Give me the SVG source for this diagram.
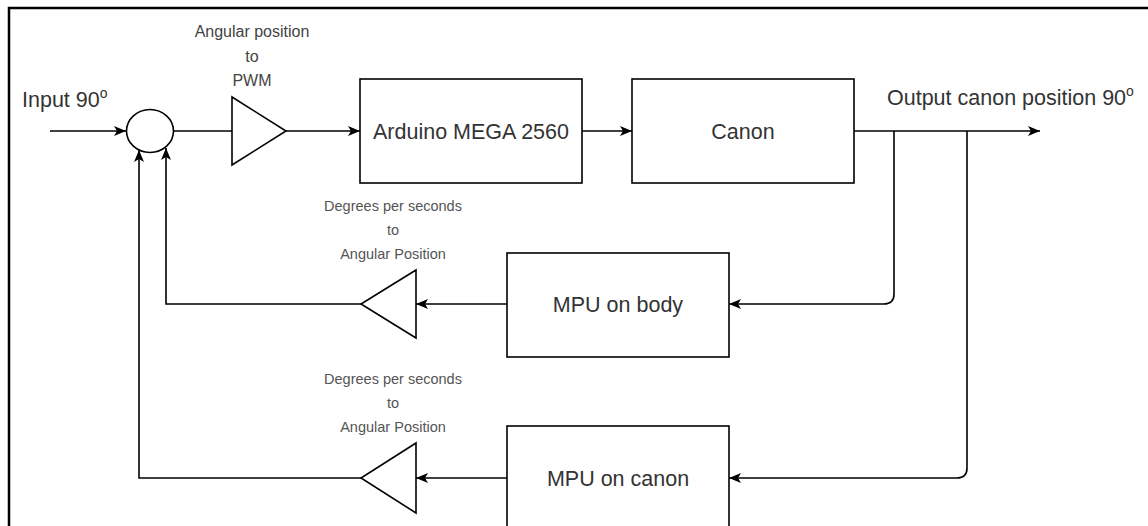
<svg xmlns="http://www.w3.org/2000/svg" width="1148" height="526" viewBox="0 0 1148 526">
<style>
.box{fill:#fff;stroke:#000;stroke-width:1.6}
.tri{fill:#fff;stroke:#000;stroke-width:1.6;stroke-linejoin:miter}
.ln{fill:none;stroke:#000;stroke-width:1.6}
.t{font-family:"Liberation Sans",Arial,sans-serif;font-size:21.5px;fill:#333}
.s{font-family:"Liberation Sans",Arial,sans-serif;font-size:16px;fill:#444;text-anchor:middle}
.d{font-family:"Liberation Sans",Arial,sans-serif;font-size:14.5px;fill:#555;text-anchor:middle}
</style>
<defs>
<marker id="ar" markerWidth="13" markerHeight="11" refX="12" refY="5.5" orient="auto" markerUnits="userSpaceOnUse">
<path d="M0,0.5 L12,5.5 L0,10.5 L3,5.5 z" fill="#000"/>
</marker>
</defs>
<rect width="1148" height="526" fill="#fff"/>
<path d="M9,526 L9,8 L1148,8" fill="none" stroke="#000" stroke-width="2.5"/>
<g id="connectors">
<line class="ln" x1="50" y1="131" x2="126" y2="131" marker-end="url(#ar)"/>
<line class="ln" x1="173.5" y1="131" x2="232" y2="131"/>
<line class="ln" x1="286" y1="131" x2="360" y2="131" marker-end="url(#ar)"/>
<line class="ln" x1="582" y1="131" x2="632" y2="131" marker-end="url(#ar)"/>
<line class="ln" x1="854" y1="131" x2="1040" y2="131" marker-end="url(#ar)"/>
<path class="ln" d="M894,131 L894,294 Q894,304 884,304 L729,304" marker-end="url(#ar)"/>
<path class="ln" d="M967,131 L967,468 Q967,478 957,478 L729,478" marker-end="url(#ar)"/>
<line class="ln" x1="507" y1="304" x2="416" y2="304" marker-end="url(#ar)"/>
<line class="ln" x1="507" y1="478" x2="416" y2="478" marker-end="url(#ar)"/>
<path class="ln" d="M361,304 L166,304 L166,148" marker-end="url(#ar)"/>
<path class="ln" d="M361,478 L139,478 L139,150" marker-end="url(#ar)"/>
</g>
<g id="input-label"><text class="t" x="22" y="107">Input 90<tspan font-size="14" dy="-9">o</tspan></text></g>
<g id="output-label"><text class="t" x="887" y="105">Output canon position 90<tspan font-size="14" dy="-9">o</tspan></text></g>
<g id="sum"><ellipse class="box" cx="150" cy="131" rx="23.5" ry="21.5"/></g>
<g id="gain-pwm">
<polygon class="tri" points="232,97 286,131 232,165"/>
<text class="s" x="252" y="37">Angular position</text>
<text class="s" x="252" y="62">to</text>
<text class="s" x="252" y="86">PWM</text>
</g>
<g id="arduino"><rect class="box" x="360" y="79" width="222" height="104"/><text class="t" x="471" y="139" text-anchor="middle">Arduino MEGA 2560</text></g>
<g id="canon"><rect class="box" x="632" y="79" width="222" height="104"/><text class="t" x="743" y="139" text-anchor="middle">Canon</text></g>
<g id="mpu-body"><rect class="box" x="507" y="253" width="222" height="104"/><text class="t" x="618" y="312" text-anchor="middle">MPU on body</text></g>
<g id="mpu-canon"><rect class="box" x="507" y="426" width="222" height="110"/><text class="t" x="618" y="486" text-anchor="middle">MPU on canon</text></g>
<g id="gain-body">
<polygon class="tri" points="416,270 361,304 416,338"/>
<text class="d" x="393" y="211">Degrees per seconds</text>
<text class="d" x="393" y="235">to</text>
<text class="d" x="393" y="259">Angular Position</text>
</g>
<g id="gain-canon">
<polygon class="tri" points="416,443 361,478 416,513"/>
<text class="d" x="393" y="384">Degrees per seconds</text>
<text class="d" x="393" y="408">to</text>
<text class="d" x="393" y="432">Angular Position</text>
</g>
</svg>
